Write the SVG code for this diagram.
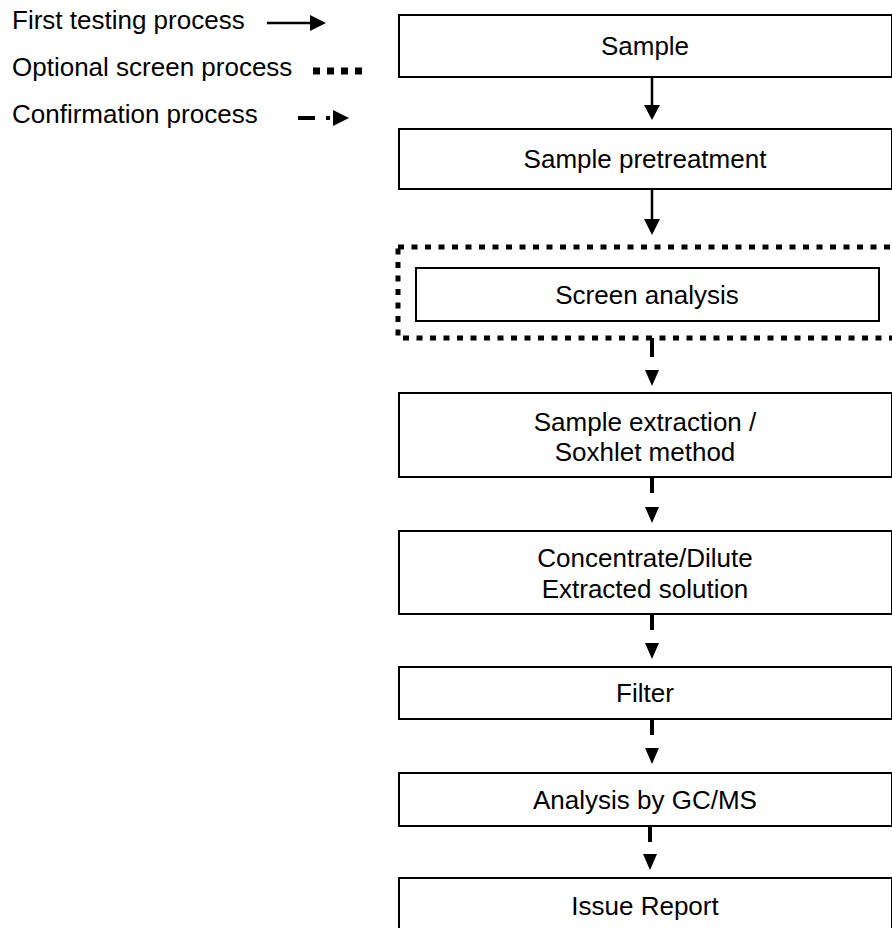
<svg xmlns="http://www.w3.org/2000/svg" width="892" height="928" viewBox="0 0 892 928">
<defs>
<style>
text{font-family:"Liberation Sans",Arial,sans-serif;font-size:26px;fill:#000}
.c{text-anchor:middle}
.box{fill:#fff;stroke:#000;stroke-width:2}
.solid{stroke:#000;stroke-width:2.5;fill:none}
.dash{stroke:#000;stroke-width:4;fill:none}
.dots{stroke:#000;stroke-width:5;fill:none;stroke-dasharray:6 7.5}
.head{fill:#000}
</style>
</defs>
<rect width="892" height="928" fill="#fff"/>
<g id="legend">
<text x="12" y="29">First testing process</text>
<line class="solid" x1="267" y1="23" x2="312" y2="23"/>
<polygon class="head" points="310,15 326,23 310,31"/>
<text x="12" y="76">Optional screen process</text>
<line x1="313" y1="71" x2="362" y2="71" stroke="#000" stroke-width="7" stroke-dasharray="7 7"/>
<text x="12" y="123">Confirmation process</text>
<line class="dash" x1="298" y1="118" x2="315" y2="118"/>
<rect x="326" y="116" width="4" height="4"/>
<polygon class="head" points="333,110 349,118 333,126"/>
</g>
<g id="screen-group">
<rect x="398" y="247" width="500" height="91" class="dots"/>
</g>
<g id="n1"><rect class="box" x="399" y="15" width="493" height="62"/><text class="c" x="645" y="55">Sample</text></g>
<g id="n2"><rect class="box" x="399" y="129" width="493" height="60"/><text class="c" x="645" y="168">Sample pretreatment</text></g>
<g id="n3"><rect class="box" x="416" y="268" width="463" height="53"/><text class="c" x="647" y="304">Screen analysis</text></g>
<g id="n4"><rect class="box" x="399" y="393" width="493" height="84"/><text class="c" x="645" y="431">Sample extraction /</text><text class="c" x="645" y="461">Soxhlet method</text></g>
<g id="n5"><rect class="box" x="399" y="531" width="493" height="83"/><text class="c" x="645" y="567">Concentrate/Dilute</text><text class="c" x="645" y="598">Extracted solution</text></g>
<g id="n6"><rect class="box" x="399" y="667" width="493" height="52"/><text class="c" x="645" y="702">Filter</text></g>
<g id="n7"><rect class="box" x="399" y="773" width="493" height="53"/><text class="c" x="645" y="809">Analysis by GC/MS</text></g>
<g id="n8"><rect class="box" x="399" y="878" width="493" height="60"/><text class="c" x="645" y="915">Issue Report</text></g>
<g id="connectors">
<line class="solid" x1="652" y1="77" x2="652" y2="108"/>
<polygon class="head" points="644,105 660,105 652,120"/>
<line class="solid" x1="652" y1="189" x2="652" y2="222"/>
<polygon class="head" points="644,219 660,219 652,235"/>
<line class="dash" x1="652" y1="338" x2="652" y2="357"/>
<polygon class="head" points="645,370 659,370 652,386"/>
<line class="dash" x1="652" y1="477" x2="652" y2="493"/>
<polygon class="head" points="645,507 659,507 652,523"/>
<line class="dash" x1="652" y1="614" x2="652" y2="630"/>
<polygon class="head" points="645,643 659,643 652,659"/>
<line class="dash" x1="652" y1="719" x2="652" y2="735"/>
<polygon class="head" points="645,748 659,748 652,764"/>
<line class="dash" x1="650" y1="826" x2="650" y2="842"/>
<polygon class="head" points="643,854 657,854 650,870"/>
</g>
</svg>
